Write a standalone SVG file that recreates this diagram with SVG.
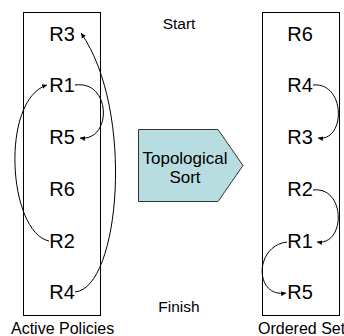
<svg xmlns="http://www.w3.org/2000/svg" width="344" height="336" viewBox="0 0 344 336">
  <style>
    text { font-family: "Liberation Sans", Arial, sans-serif; fill: #000; }
    .r { font-size: 20px; text-anchor: middle; }
    .cap { font-size: 15.5px; text-anchor: middle; }
    .lbl { font-size: 16px; }
    .box { fill: #fff; stroke: #000; stroke-width: 1; }
    .link { fill: none; stroke: #000; stroke-width: 1; marker-end: url(#head); }
  </style>
  <defs>
    <marker id="head" markerUnits="userSpaceOnUse" markerWidth="8" markerHeight="6" refX="5" refY="3" orient="auto">
      <path d="M0,0.6 L5,3 L0,5.4 Z" fill="#000"/>
    </marker>
  </defs>
  <rect width="344" height="336" fill="#fff"/>

  <!-- left column: active policies -->
  <g id="active-policies">
    <rect class="box" x="23.5" y="12.5" width="77" height="303"/>
    <text class="lbl" x="11" y="334">Active Policies</text>
  </g>
  <g id="a-R3"><text class="r" x="62" y="41">R3</text></g>
  <g id="a-R1"><text class="r" x="62" y="92">R1</text></g>
  <g id="a-R5"><text class="r" x="62" y="144">R5</text></g>
  <g id="a-R6"><text class="r" x="62" y="196">R6</text></g>
  <g id="a-R2"><text class="r" x="62" y="248">R2</text></g>
  <g id="a-R4"><text class="r" x="62" y="299">R4</text></g>

  <!-- right column: ordered set -->
  <g id="ordered-set">
    <rect class="box" x="262.5" y="12.5" width="77" height="303"/>
    <text class="lbl" x="258" y="334">Ordered Set</text>
  </g>
  <g id="o-R6"><text class="r" x="300" y="41">R6</text></g>
  <g id="o-R4"><text class="r" x="300" y="92">R4</text></g>
  <g id="o-R3"><text class="r" x="300" y="144">R3</text></g>
  <g id="o-R2"><text class="r" x="300" y="196">R2</text></g>
  <g id="o-R1"><text class="r" x="300" y="248">R1</text></g>
  <g id="o-R5"><text class="r" x="300" y="299">R5</text></g>

  <!-- process step between the columns -->
  <g id="start"><text class="cap" x="179" y="29">Start</text></g>
  <g id="finish"><text class="cap" x="179" y="311.5">Finish</text></g>
  <g id="topological-sort">
    <polygon points="138.5,129.5 218,129.5 243,165.5 218,201.5 138.5,201.5" fill="#B7DDE1" stroke="#333" stroke-width="1"/>
    <text x="185" y="164" font-size="17" text-anchor="middle">Topological</text>
    <text x="185" y="183" font-size="17" text-anchor="middle">Sort</text>
  </g>

  <!-- dependency connectors -->
  <g id="connectors">
    <path class="link" d="M75,292 C120,288 135,110 81,33"/>
    <path class="link" d="M75,85 C112,80 112,142 80,138"/>
    <path class="link" d="M49,241 C8,232 0,100 47,85"/>
    <path class="link" d="M313,85 C346,82 346,142 318,138"/>
    <path class="link" d="M313,190 C346,186 346,246 317,242"/>
    <path class="link" d="M287,242 C254,246 254,298 286,293"/>
  </g>
</svg>
